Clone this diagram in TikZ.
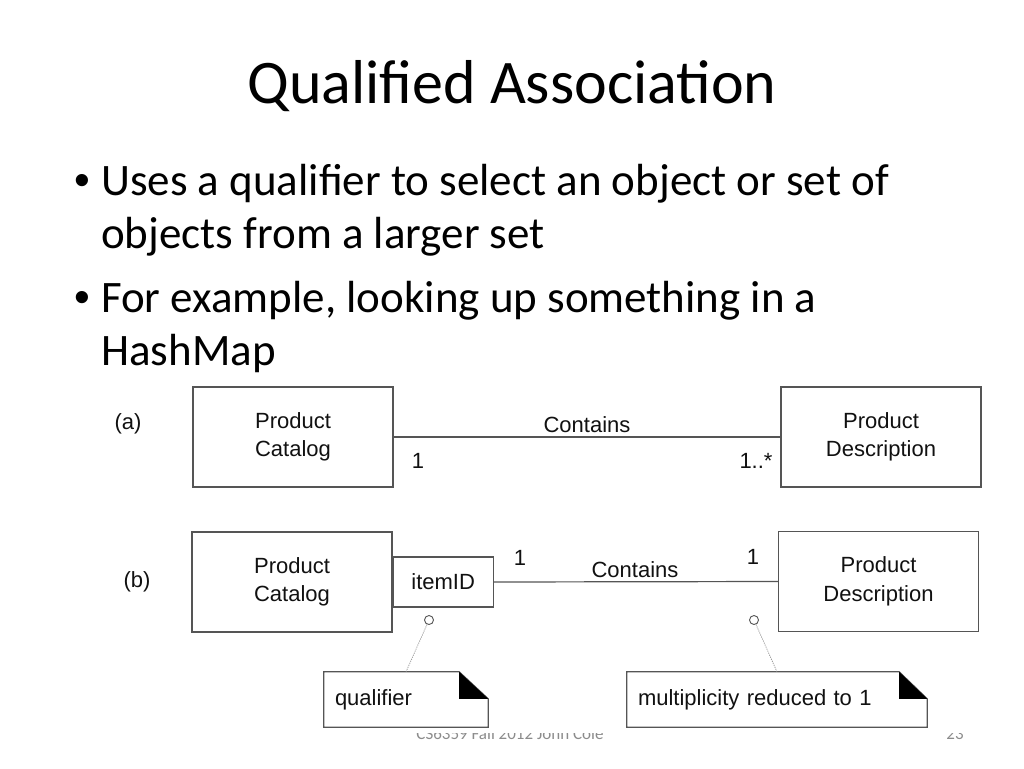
\documentclass[tikz,border=0pt]{standalone}
\usepackage{fontspec}
\setmainfont{Carlito}
\newfontfamily\arialf{Liberation Sans}
\definecolor{linegray}{HTML}{555555}
\definecolor{txt}{HTML}{111111}
\definecolor{footgray}{HTML}{8C8C8C}
\begin{document}
\begin{tikzpicture}[x=1pt,y=-1pt,
  titlefont/.style={font=\fontsize{62}{70}\selectfont},
  bodytext/.style={anchor=base west, inner sep=0, font=\fontsize{45}{54}\selectfont},
  bulletmark/.style={anchor=base west, inner sep=0, font=\arialf\fontsize{45}{54}\selectfont},
  foot/.style={anchor=base, inner sep=0, text=footgray, font=\fontsize{17}{20}\selectfont},
  cls/.style={draw=linegray, line width=1.2pt, minimum width=200pt, minimum height=100pt, align=center, inner sep=0, text=txt, font=\arialf\fontsize{22}{28.5}\selectfont},
  qualbox/.style={draw=linegray, line width=1.2pt, minimum width=100pt, minimum height=50pt, inner sep=0, text=txt, font=\arialf\fontsize{22}{28}\selectfont},
  lbl/.style={inner sep=0, text=txt, font=\arialf\fontsize{22}{28}\selectfont},
  assoc/.style={draw=linegray, line width=1.2pt},
  hole/.style={circle, draw=linegray, line width=0.9pt, fill=white, minimum size=9pt, inner sep=0},
  notetext/.style={inner xsep=11pt, inner ysep=0, minimum height=55pt, align=left, text=txt, font=\arialf\fontsize{22}{28}\selectfont},
  dotline/.style={draw=linegray!70, line width=0.8pt, dash pattern=on 1pt off 1.2pt}
]
\useasboundingbox (0,0) rectangle (1024,768);
\fill[white] (0,0) rectangle (1024,768);

% title
\node[titlefont, anchor=base, inner sep=0] (title) at (512,103) {Qualified Association};

% bullets
\node[bulletmark] (b1) at (74,195) {•};
\node[bodytext] (t1) at (101,195) {Uses a qualifier to select an object or set of};
\node[bodytext] (t2) at (101,248) {objects from a larger set};
\node[bulletmark] (b2) at (74,312) {•};
\node[bodytext] (t3) at (101,312) {For example, looking up something in a};
\node[bodytext] (t4) at (101,365) {HashMap};

% footer (partly hidden by the diagram picture)
\node[foot] (footer) at (510,739) {CS6359 Fall 2012 John Cole};
\node[foot] (pagenum) at (955,739) {23};
\fill[white] (100,383) rectangle (990,732.5);

% (a)
\node[lbl] (la) at (128,424) {(a)};
\node[cls] (pcA) at (293,437) {Product\\Catalog};
\node[cls] (pdA) at (881,437) {Product\\Description};
\draw[assoc] (pcA.east) -- (pdA.west);
\node[lbl] (contA) at (587,425) {Contains};
\node[lbl] (mA1) at (418,461) {1};
\node[lbl] (mAn) at (756,461) {1..*};

% (b)
\node[lbl] (lb) at (137,582) {(b)};
\node[cls] (pcB) at (292,582) {Product\\Catalog};
\node[qualbox, anchor=west] (qual) at (pcB.east) {itemID};
\node[cls] (pdB) at (878.5,581.5) {Product\\Description};
\draw[assoc] (qual.east) -- (pdB.west);
\node[lbl] (contB) at (635,570) {Contains};
\node[lbl] (mB1) at (520,558) {1};
\node[lbl] (mB2) at (753,557) {1};

% notes
\node[hole] (c1) at (429,620) {};
\node[hole] (c2) at (754,620) {};
\node[notetext, minimum width=164pt, text width=142pt] (n1) at (406,699.5) {qualifier};
\node[notetext, minimum width=300pt, text width=278pt] (n2) at (777,699.5) {multiplicity reduced to 1};
\foreach \n/\f in {n1/29pt, n2/28pt}{
  \draw[draw=linegray, line width=1.2pt] (\n.north west) -- ([xshift=-\f]\n.north east) -- ([yshift=-27pt]\n.north east) -- (\n.south east) -- (\n.south west) -- cycle;
  \fill[black] ([xshift=-\f]\n.north east) -- ([xshift=-\f,yshift=-27pt]\n.north east) -- ([yshift=-27pt]\n.north east) -- cycle;
}
\draw[dotline] (c1) -- (n1.north);
\draw[dotline] (c2) -- (n2.north);
\end{tikzpicture}
\end{document}
